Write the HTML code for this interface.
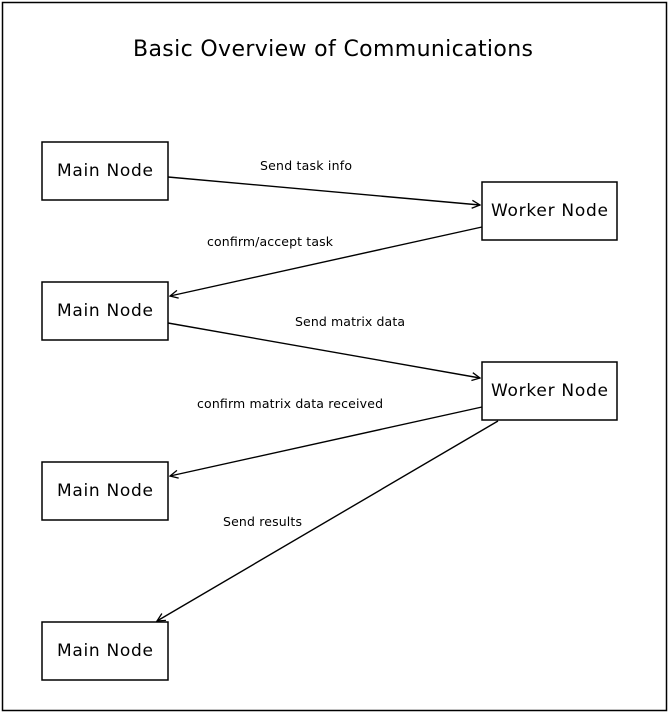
<!DOCTYPE html>
<html><head><style>body{margin:0;background:#fff}svg{display:block}text{font-family:"DejaVu Sans","Liberation Sans",sans-serif;fill:#000}</style></head>
<body>
<svg width="668" height="712" viewBox="0 0 668 712" xmlns="http://www.w3.org/2000/svg">
<defs><marker id="a" viewBox="0 0 10 10" refX="9" refY="5" markerWidth="10" markerHeight="10" markerUnits="userSpaceOnUse" orient="auto"><path d="M1 1 L9 5 L1 9" fill="none" stroke="#000" stroke-width="1.3"/></marker></defs>
<rect x="2.5" y="2.5" width="664" height="708" fill="#fff" stroke="#000" stroke-width="1.5"/>
<text x="133" y="56" font-size="22" textLength="400" lengthAdjust="spacing">Basic Overview of Communications</text>
<g fill="#fff" stroke="#000" stroke-width="1.5">
<rect x="42" y="142" width="126" height="58"/>
<rect x="42" y="282" width="126" height="58"/>
<rect x="42" y="462" width="126" height="58"/>
<rect x="42" y="622" width="126" height="58"/>
<rect x="482" y="182" width="135" height="58"/>
<rect x="482" y="362" width="135" height="58"/>
</g>
<g font-size="17">
<text x="57" y="176" textLength="96" lengthAdjust="spacing">Main Node</text>
<text x="57" y="316" textLength="96" lengthAdjust="spacing">Main Node</text>
<text x="57" y="496" textLength="96" lengthAdjust="spacing">Main Node</text>
<text x="57" y="656" textLength="96" lengthAdjust="spacing">Main Node</text>
<text x="491" y="216" textLength="117" lengthAdjust="spacing">Worker Node</text>
<text x="491" y="396" textLength="117" lengthAdjust="spacing">Worker Node</text>
</g>
<g stroke="#000" stroke-width="1.4" fill="none" marker-end="url(#a)">
<line x1="168" y1="177" x2="480" y2="205"/>
<line x1="482" y1="227" x2="170" y2="296"/>
<line x1="168" y1="323" x2="480" y2="378"/>
<line x1="482" y1="407" x2="170" y2="476"/>
<line x1="498" y1="421" x2="157" y2="621"/>
</g>
<g font-size="12.5">
<text x="260" y="170" textLength="92" lengthAdjust="spacing">Send task info</text>
<text x="207" y="246" textLength="126" lengthAdjust="spacing">confirm/accept task</text>
<text x="295" y="326" textLength="110" lengthAdjust="spacing">Send matrix data</text>
<text x="197" y="408" textLength="186" lengthAdjust="spacing">confirm matrix data received</text>
<text x="223" y="526" textLength="79" lengthAdjust="spacing">Send results</text>
</g>
</svg>
</body></html>
